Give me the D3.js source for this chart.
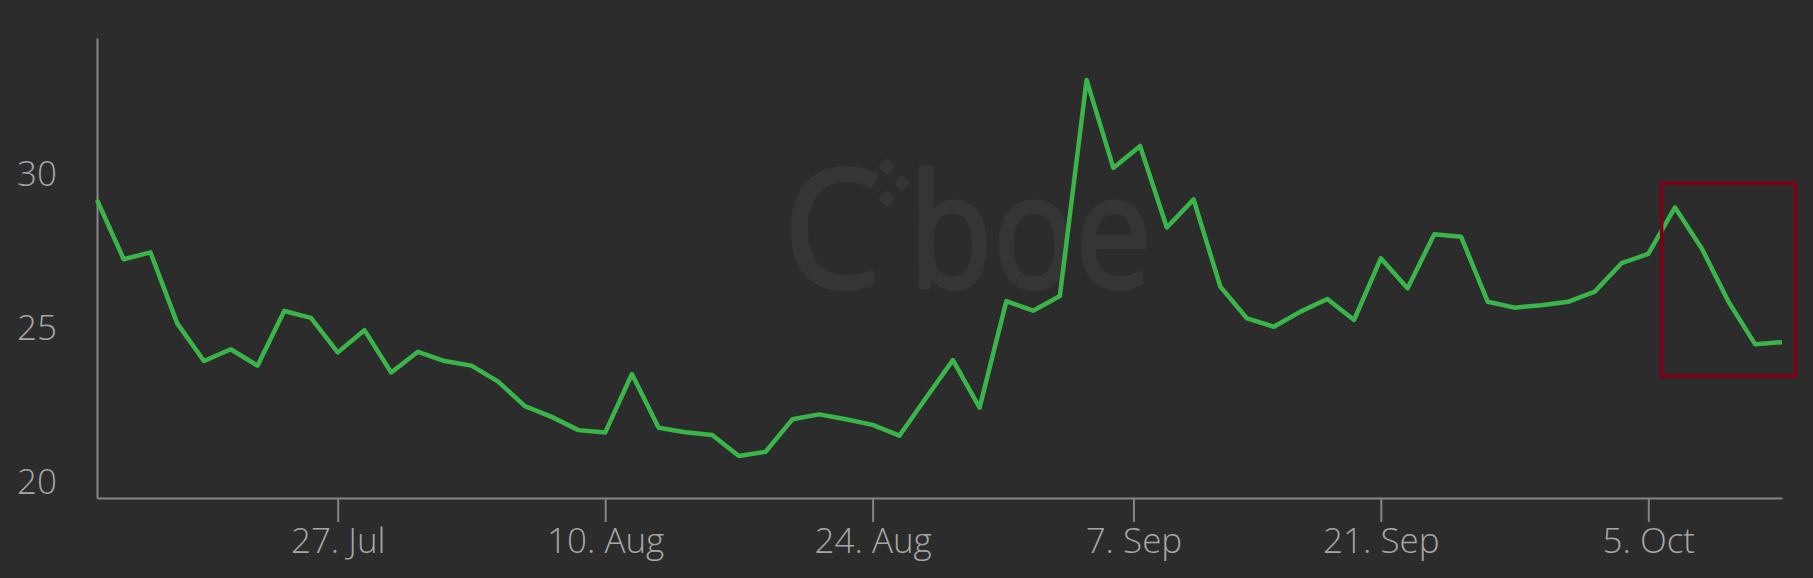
<!DOCTYPE html>
<html>
<head>
<meta charset="utf-8">
<script src="https://cdn.jsdelivr.net/npm/d3@7"></script>
<style>
  html, body { margin: 0; padding: 0; background: #2c2c2c; }
  svg { display: block; }
  .axis text { font-family: "Open Sans", sans-serif; font-weight: 300; font-size: 35px; fill: #a6a6a6; }
  .axis path, .axis line { stroke: #858585; stroke-width: 2; }
</style>
</head>
<body>
<div class="chart"></div>
<script>
// trading days (ordinal axis, weekends and Labor Day skipped)
const days = [
  "2020-07-14", "2020-07-15", "2020-07-16", "2020-07-17", "2020-07-20", "2020-07-21", "2020-07-22", "2020-07-23", "2020-07-24",
  "2020-07-27", "2020-07-28", "2020-07-29", "2020-07-30", "2020-07-31",
  "2020-08-03", "2020-08-04", "2020-08-05", "2020-08-06", "2020-08-07",
  "2020-08-10", "2020-08-11", "2020-08-12", "2020-08-13", "2020-08-14",
  "2020-08-17", "2020-08-18", "2020-08-19", "2020-08-20", "2020-08-21",
  "2020-08-24", "2020-08-25", "2020-08-26", "2020-08-27", "2020-08-28",
  "2020-08-31", "2020-09-01", "2020-09-02", "2020-09-03", "2020-09-04",
  "2020-09-08", "2020-09-09", "2020-09-10", "2020-09-11",
  "2020-09-14", "2020-09-15", "2020-09-16", "2020-09-17", "2020-09-18",
  "2020-09-21", "2020-09-22", "2020-09-23", "2020-09-24", "2020-09-25",
  "2020-09-28", "2020-09-29", "2020-09-30", "2020-10-01", "2020-10-02",
  "2020-10-05", "2020-10-06", "2020-10-07", "2020-10-08", "2020-10-09",
  "2020-10-12"
];

const values = [
  29.11, 27.19, 27.41, 25.11, 23.89, 24.27, 23.74, 25.51, 25.29, 24.17,
  24.89, 23.52, 24.19, 23.89, 23.74, 23.22, 22.43, 22.08, 21.65, 21.57,
  23.47, 21.73, 21.58, 21.49, 20.81, 20.95, 22.00, 22.16, 22.00, 21.82,
  21.47, 22.70, 23.92, 22.38, 25.83, 25.52, 26.00, 33.00, 30.15, 30.86,
  28.22, 29.13, 26.30, 25.27, 25.00, 25.49, 25.90, 25.22, 27.22, 26.25,
  28.00, 27.92, 25.81, 25.62, 25.70, 25.81, 26.14, 27.06, 27.36, 28.87,
  27.54, 25.81, 24.43, 24.50
];

const xTicks = ["2020-07-27", "2020-08-10", "2020-08-24", "2020-09-07", "2020-09-21", "2020-10-05"];
const yTicks = [20, 25, 30];
const yExtent = [19.45, 34.36];

// highlight box, in point-index and value units
const boxIndex = [58.5, 63.5];
const boxValue = [23.41, 29.65];

const width = 1813, height = 578;
const margin = { top: 38, right: 31, bottom: 80, left: 97 };

const parse = d3.timeParse("%Y-%m-%d");
const dates = days.map(parse);

// evenly spaced points, like an ordinal stock axis
const xi = d3.scaleLinear()
  .domain([0, dates.length - 1])
  .range([margin.left, width - margin.right]);

const x = d3.scaleTime()
  .domain(dates)
  .range(dates.map((_, i) => xi(i)));

const y = d3.scaleLinear()
  .domain(yExtent)
  .range([height - margin.bottom, margin.top]);

const svg = d3.select(".chart")
  .append("svg")
  .attr("width", width)
  .attr("height", height)
  .attr("viewBox", [0, 0, width, height]);

svg.append("rect")
  .attr("width", width)
  .attr("height", height)
  .attr("fill", "#2c2c2c");

// watermark
const logo = svg.append("g")
  .attr("fill", "#353535")
  .attr("stroke", "#353535")
  .attr("stroke-width", 4)
  .attr("stroke-linejoin", "round");
logo.append("text")
  .attr("x", 783).attr("y", 287)
  .style("font", "400 164px 'Open Sans', sans-serif")
  .attr("textLength", 98)
  .attr("lengthAdjust", "spacingAndGlyphs")
  .text("C");
logo.append("text")
  .attr("x", 909).attr("y", 287)
  .style("font", "400 158px 'Open Sans', sans-serif")
  .attr("textLength", 243)
  .attr("lengthAdjust", "spacingAndGlyphs")
  .text("boe");
[[887, 167], [902, 183], [887, 199]].forEach(([cx, cy]) => {
  logo.append("rect")
    .attr("stroke", "none")
    .attr("x", -6).attr("y", -6)
    .attr("width", 12).attr("height", 12)
    .attr("transform", `translate(${cx},${cy}) rotate(45)`);
});

svg.append("g")
  .attr("class", "axis")
  .attr("transform", `translate(0,${height - margin.bottom})`)
  .call(d3.axisBottom(x)
    .tickValues(xTicks.map(parse))
    .tickFormat(d3.timeFormat("%-d. %b"))
    .tickSize(24)
    .tickSizeOuter(0)
    .tickPadding(6));

svg.append("g")
  .attr("class", "axis")
  .attr("transform", `translate(${margin.left},0)`)
  .call(d3.axisLeft(y)
    .tickValues(yTicks)
    .tickSize(0)
    .tickSizeOuter(0)
    .tickPadding(40))
  .call(g => g.selectAll("text").attr("dy", "0.36em"));

const line = d3.line()
  .x((d, i) => x(dates[i]))
  .y(d => y(d));

svg.append("path")
  .datum(values)
  .attr("fill", "none")
  .attr("stroke", "#3ab54a")
  .attr("stroke-width", 4.5)
  .attr("stroke-linejoin", "round")
  .attr("d", line);

svg.append("rect")
  .attr("x", xi(boxIndex[0]))
  .attr("y", y(boxValue[1]))
  .attr("width", xi(boxIndex[1]) - xi(boxIndex[0]))
  .attr("height", y(boxValue[0]) - y(boxValue[1]))
  .attr("fill", "none")
  .attr("stroke", "#7f0016")
  .attr("stroke-width", 3.5);
</script>
</body>
</html>
